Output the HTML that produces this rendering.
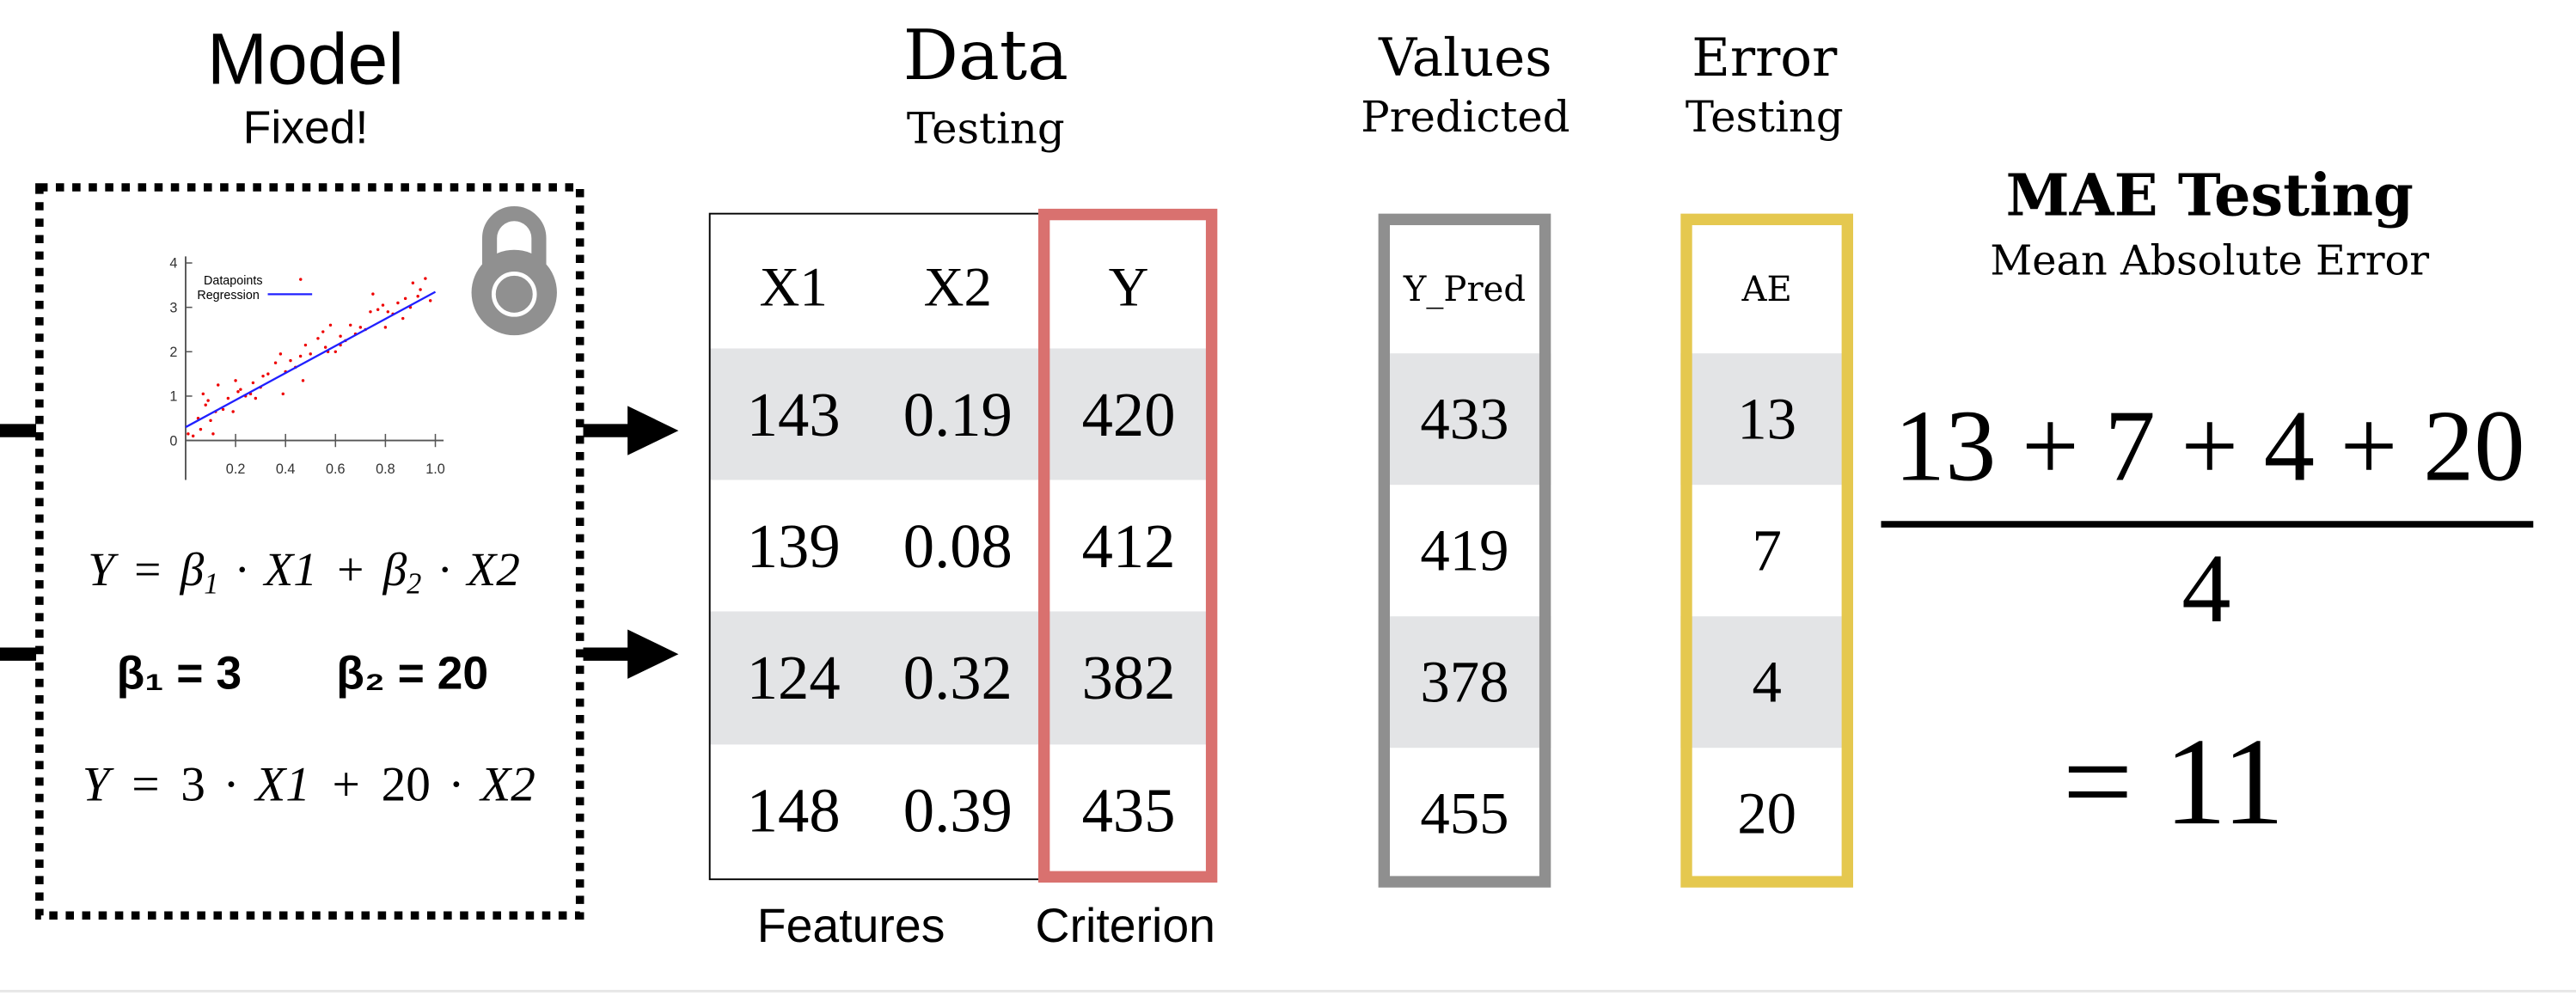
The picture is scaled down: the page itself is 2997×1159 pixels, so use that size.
<!DOCTYPE html>
<html><head><meta charset="utf-8"><style>
html,body{margin:0;padding:0;background:#fff;}
svg{display:block;}
.sans{font-family:"Liberation Sans",sans-serif;}
.serif{font-family:"Liberation Serif",serif;}
.dserif{font-family:"DejaVu Serif",serif;}
</style></head><body>
<svg id="main" width="2997" height="1159" viewBox="0 0 1568 606" preserveAspectRatio="none" xmlns="http://www.w3.org/2000/svg">
<rect x="0" y="0" width="1568" height="606" fill="#fff"/>
<g>
<text class="sans" x="186" y="51" font-size="44" text-anchor="middle">Model</text>
<text class="sans" x="186" y="87" font-size="28" text-anchor="middle">Fixed!</text>
<rect x="24" y="114" width="329" height="443" fill="none" stroke="#000" stroke-width="5" stroke-dasharray="5 5"/>
<line x1="0" y1="262" x2="22" y2="262" stroke="#000" stroke-width="8"/>
<line x1="0" y1="398" x2="22" y2="398" stroke="#000" stroke-width="8"/>
<g><line x1="355" y1="262" x2="385" y2="262" stroke="#000" stroke-width="8"/><polygon points="382,247 413,262 382,277" fill="#000"/></g>
<g><line x1="355" y1="398" x2="385" y2="398" stroke="#000" stroke-width="8"/><polygon points="382,383 413,398 382,413" fill="#000"/></g>
<g id="chart"></g>
<g>
<path d="M298,165 L298,145 A15,15 0 0 1 328,145 L328,165" fill="none" stroke="#909090" stroke-width="9"/>
<circle cx="313" cy="178" r="26" fill="#909090"/>
<circle cx="313" cy="179" r="12.5" fill="#909090" stroke="#fff" stroke-width="2.5"/>
</g>
<text class="serif" x="185" y="356" font-size="29" text-anchor="middle" font-style="italic" word-spacing="3">Y = β<tspan font-size="18" dy="5">1</tspan><tspan dy="-5"> · X1 + β</tspan><tspan font-size="18" dy="5">2</tspan><tspan dy="-5"> · X2</tspan></text>
<text class="sans" x="109" y="419" font-size="28" font-weight="bold" text-anchor="middle">β₁ = 3</text>
<text class="sans" x="251" y="419" font-size="28" font-weight="bold" text-anchor="middle">β₂ = 20</text>
<text class="serif" x="188" y="487" font-size="30" text-anchor="middle" font-style="italic" word-spacing="4">Y = <tspan font-style="normal">3</tspan> · X1 + <tspan font-style="normal">20</tspan> · X2</text>
</g>
<g>
<text class="dserif" x="600" y="48" font-size="42" text-anchor="middle">Data</text>
<text class="dserif" x="600" y="87" font-size="26" text-anchor="middle">Testing</text>
<g id="table"></g>
<text class="sans" x="518" y="573" font-size="29" text-anchor="middle">Features</text>
<text class="sans" x="685" y="573" font-size="29" text-anchor="middle">Criterion</text>
</g>
<g>
<text class="dserif" x="892" y="46" font-size="32" text-anchor="middle">Values</text>
<text class="dserif" x="892" y="80" font-size="26" text-anchor="middle">Predicted</text>
<g id="pred"></g>
</g>
<g>
<text class="dserif" x="1074" y="46" font-size="32" text-anchor="middle">Error</text>
<text class="dserif" x="1074" y="80" font-size="26" text-anchor="middle">Testing</text>
<g id="err"></g>
</g>
<g>
<text class="dserif" x="1345" y="131" font-size="35" font-weight="bold" text-anchor="middle">MAE Testing</text>
<text class="dserif" x="1345" y="167" font-size="25" text-anchor="middle">Mean Absolute Error</text>
<text class="serif" x="1345" y="292" font-size="62" text-anchor="middle">13 + 7 + 4 + 20</text>
<line x1="1145" y1="319" x2="1542" y2="319" stroke="#000" stroke-width="4"/>
<text class="serif" x="1343" y="378" font-size="60" text-anchor="middle">4</text>
<text class="serif" x="1323" y="501" font-size="76" text-anchor="middle">= 11</text>
</g>
<line x1="0" y1="603" x2="1568" y2="603" stroke="#e6e6e6" stroke-width="1.5"/>
</svg>
<script>
const NS="http://www.w3.org/2000/svg";
const xTicks=[0.2,0.4,0.6,0.8,1.0];
const yTicks=[0,1,2,3,4];
const regX=[0,1.0];
const regY=[0.3,3.35];
const ptX=[0.01,0.03,0.05,0.06,0.07,0.08,0.09,0.1,0.11,0.12,0.13,0.15,0.17,0.19,0.2,0.21,0.22,0.24,0.26,0.28,0.3,0.31,0.33,0.36,0.38,0.39,0.4,0.42,0.44,0.46,0.48,0.5,0.53,0.55,0.56,0.58,0.6,0.62,0.64,0.66,0.68,0.7,0.72,0.74,0.77,0.79,0.8,0.81,0.83,0.85,0.87,0.88,0.9,0.91,0.93,0.94,0.96,0.98,0.27,0.47,0.57,0.62,0.75];
const ptY=[0.15,0.1,0.5,0.25,1.05,0.8,0.9,0.45,0.15,0.65,1.25,0.7,0.95,0.65,1.35,1.1,1.15,1.0,1.05,0.95,1.2,1.45,1.5,1.75,1.95,1.05,1.55,1.8,1.65,1.9,2.15,1.95,2.3,2.45,2.1,2.6,2.0,2.35,2.25,2.6,2.4,2.55,2.5,2.9,2.95,3.05,2.55,2.9,2.85,3.1,2.75,3.2,3.0,3.55,3.25,3.4,3.65,3.15,1.3,1.35,2.0,2.15,3.3];
const headers=["X1","X2","Y"];
const colX1=["143","139","124","148"];
const colX2=["0.19","0.08","0.32","0.39"];
const colY=["420","412","382","435"];
const yPred=["433","419","378","455"];
const absErr=["13","7","4","20"];

function el(tag,attrs,parent,text){const e=document.createElementNS(NS,tag);for(const k in attrs)e.setAttribute(k,attrs[k]);if(text!==undefined)e.textContent=text;parent.appendChild(e);return e;}
const chart=document.getElementById('chart');
const ox=113,oy=268;
const sx=v=>ox+v*152, sy=v=>oy-v*27;
let a=el('line',{x1:ox,y1:156,x2:ox,y2:292,stroke:'#555','stroke-width':1},chart);


a=el('line',{x1:ox,y1:oy,x2:270,y2:oy,stroke:'#555','stroke-width':1},chart);


xTicks.forEach(t=>{el('line',{x1:sx(t),y1:oy-4,x2:sx(t),y2:oy+4,stroke:'#555','stroke-width':0.8},chart);
const tx=el('text',{x:sx(t),y:oy+20,'font-size':8.5,'text-anchor':'middle','class':'sans',fill:'#333'},chart,t.toFixed(1));

});
yTicks.forEach(t=>{el('line',{x1:ox,y1:sy(t),x2:ox+4,y2:sy(t),stroke:'#555','stroke-width':0.8},chart);
const tx=el('text',{x:ox-5,y:sy(t)+3,'font-size':8.5,'text-anchor':'end','class':'sans',fill:'#333'},chart,String(t));

});
ptX.forEach((x,i)=>{const c=el('circle',{cx:sx(x),cy:sy(ptY[i]),r:0.9,fill:'#e00'},chart);

});
const rl=el('line',{x1:sx(regX[0]),y1:sy(regY[0]),x2:sx(regX[1]),y2:sy(regY[1]),stroke:'#2020ff','stroke-width':1.2},chart);


let lg=el('text',{x:124,y:173,'font-size':7.5,'class':'sans'},chart,'Datapoints');


el('circle',{cx:183,cy:170,r:0.9,fill:'#e00'},chart);
lg=el('text',{x:120,y:182,'font-size':7.5,'class':'sans'},chart,'Regression');


el('line',{x1:163,y1:179,x2:190,y2:179,stroke:'#2020ff','stroke-width':1.2},chart);

const tb=document.getElementById('table');
const rowTop=[212,292,372,453], rowH=[80,80,81,82];
[0,2].forEach(i=>{const r=el('rect',{x:432,y:rowTop[i],width:306,height:rowH[i],fill:'#e3e4e6'},tb);

});
el('rect',{x:432,y:130,width:204,height:405,fill:'none',stroke:'#000','stroke-width':1},tb);
const cx=[483,583,687];
headers.forEach((h,i)=>{const t=el('text',{x:cx[i],y:186,'font-size':34,'text-anchor':'middle','class':'serif'},tb,h);

});
[colX1,colX2,colY].forEach((col,ci)=>col.forEach((v,ri)=>{const t=el('text',{x:cx[ci],y:rowTop[ri]+53,'font-size':38,'text-anchor':'middle','class':'serif'},tb,v);

}));
const rb=el('rect',{x:635.5,y:130.5,width:102,height:403,fill:'none',stroke:'#d9716f','stroke-width':7},tb);



function column(gid,x,w,color,head,vals,nm){
  const g=document.getElementById(gid);
  const top=[215,295,375,455];
  [0,2].forEach(i=>{const r=el('rect',{x:x,y:top[i],width:w,height:80,fill:'#e3e4e6'},g);
  
  });
  const h=el('text',{x:x+w/2,y:183,'font-size':21,'text-anchor':'middle','class':'dserif'},g,head);
  
  
  vals.forEach((v,i)=>{const t=el('text',{x:x+w/2,y:top[i]+52,'font-size':36,'text-anchor':'middle','class':'serif'},g,v);
  
  });
  const b=el('rect',{x:x+3.5,y:133.5,width:w-7,height:403,fill:'none',stroke:color,'stroke-width':7},g);
  
  
}
column('pred',839,105,'#8f8f8f','Y_Pred',yPred,'predicted');
column('err',1023,105,'#e5c84f','AE',absErr,'error');
</script>
</body></html>
